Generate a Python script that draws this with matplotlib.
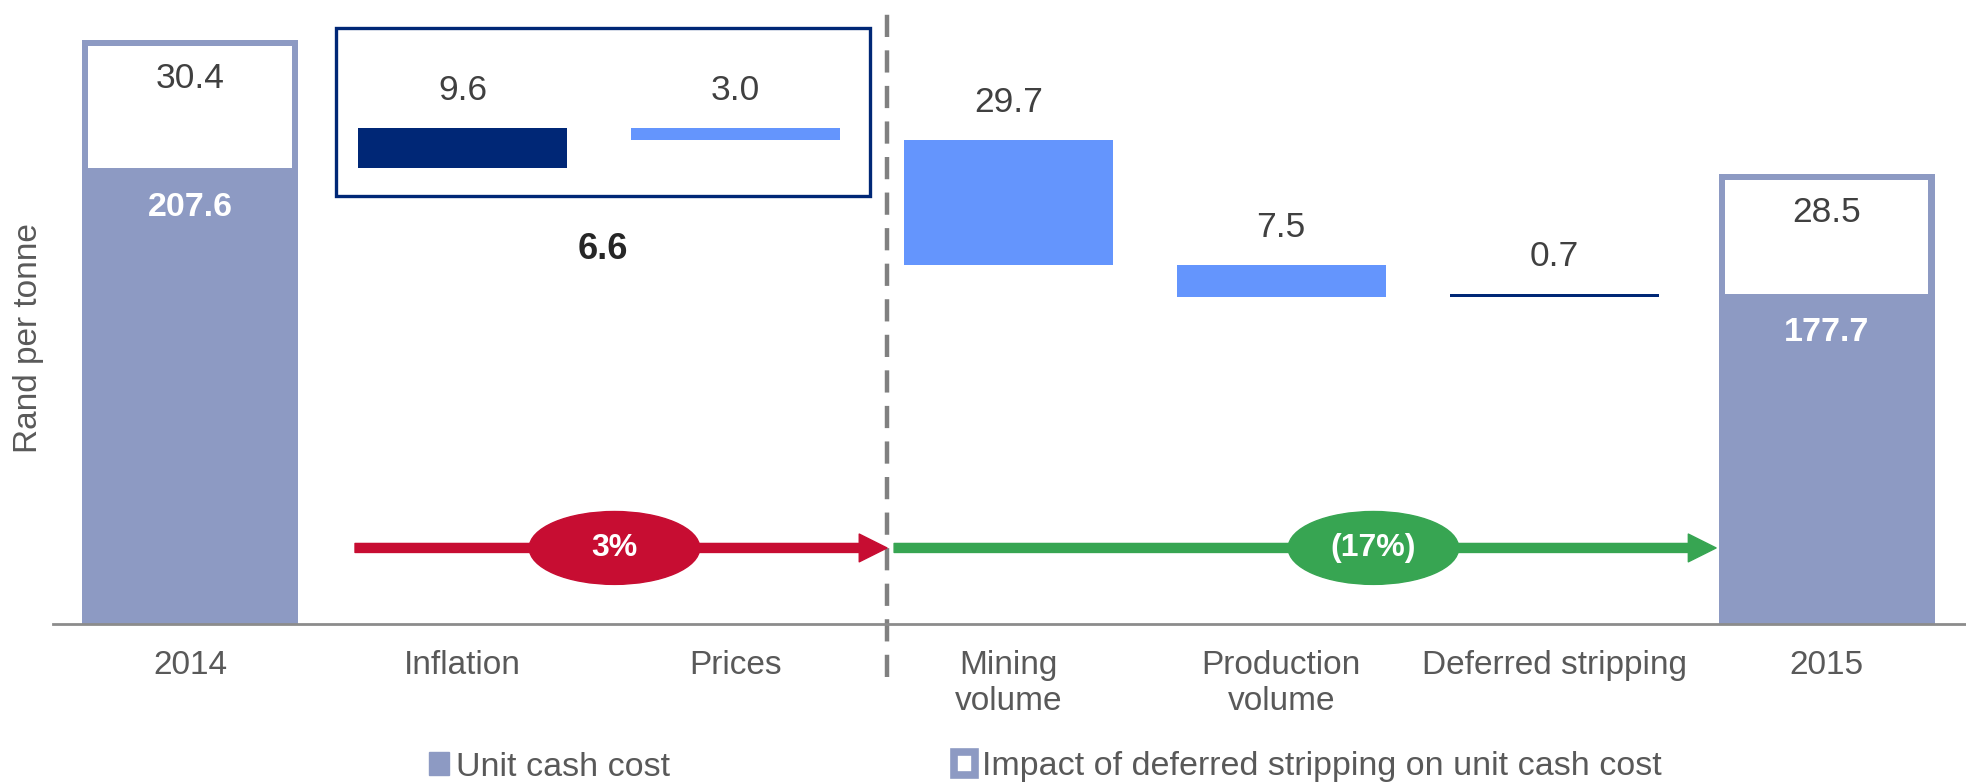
import numpy as np
import matplotlib.pyplot as plt
from matplotlib.patches import Rectangle, Ellipse, FancyArrowPatch, Patch

plt.rcParams['font.family'] = ['Liberation Sans', 'DejaVu Sans']

CATEGORIES = ['2014', 'Inflation', 'Prices', 'Mining\nvolume',
              'Production\nvolume', 'Deferred stripping', '2015']
UNIT_CASH_COST = [207.6, 177.7]      # 2014, 2015
STRIPPING_IMPACT = [30.4, 28.5]      # 2014, 2015
CHANGES = [9.6, -3.0, -29.7, -7.5, 0.7]
LEGEND_LABELS = ['Unit cash cost', 'Impact of deferred stripping on unit cash cost']

LAVENDER = '#8d9ac3'
NAVY = '#002776'
LIGHT_BLUE = '#6495fd'
RED = '#c70d32'
GREEN = '#37a552'
GREY_TXT = '#595959'
VAL_TXT = '#404040'

fig = plt.figure(figsize=(19.66, 7.83), dpi=100)
ax = fig.add_axes([53 / 1966, 1 - 624 / 783, 1 - 53 / 1966, 624 / 783])

x = np.arange(len(CATEGORIES))
ends = [x[0], x[-1]]
cost = np.array(UNIT_CASH_COST)
impact = np.array(STRIPPING_IMPACT)
totals = cost + impact

# 2014 / 2015 columns: full bar, white inset for the stripping impact
ax.bar(ends, totals, width=0.79, color=LAVENDER, zorder=2)
ax.bar(ends, impact - 1.4, bottom=cost, width=0.745, color='white', zorder=3)
for xi, c, t, imp in zip(ends, cost, totals, impact):
    ax.annotate(f'{imp:.1f}', (xi, t), xytext=(0, -28), textcoords='offset points',
                ha='center', va='center', fontsize=25.5, color=VAL_TXT, zorder=5)
    ax.annotate(f'{c:.1f}', (xi, c), xytext=(0, -28), textcoords='offset points',
                ha='center', va='center', fontsize=24.5, fontweight='bold',
                color='white', zorder=5)

# waterfall steps
steps = np.array(CHANGES)
levels = cost[0] + np.concatenate([[0], np.cumsum(steps)])
lows = np.minimum(levels[:-1], levels[1:])
highs = np.maximum(levels[:-1], levels[1:])
colors = [NAVY if v > 0 else LIGHT_BLUE for v in steps]
ax.bar(x[1:-1], np.abs(steps), bottom=lows, width=0.766, color=colors, zorder=2)
for xi, top, v in zip(x[1:-1], highs, steps):
    ax.annotate(f'{abs(v):.1f}', (xi, top), xytext=(0, 27), textcoords='offset points',
                ha='center', va='center', fontsize=25.5, color=VAL_TXT)

# box around inflation + prices with net figure
ax.add_patch(Rectangle((0.535, 201.0), 2.493 - 0.535, 240.85 - 201.0, fill=False,
                       edgecolor=NAVY, lw=2.4, zorder=4))
net = steps[0] + steps[1]
ax.text((0.535 + 2.493) / 2, 188.3, f'{net:.1f}', ha='center', va='center',
        fontsize=26, fontweight='bold', color='#262626')

# divider
ax.plot([2.555, 2.555], [86.8, 245.1], color='#808080', lw=3.2,
        linestyle=(0, (5, 3)), clip_on=False, zorder=1)

# percentage arrows
pct_up = net / cost[0] * 100
pct_down = (cost[1] - levels[2]) / levels[2] * 100
ay = 117.45
for (x0, x1, xc, col, txt) in [(0.605, 2.555, 1.556, RED, f'{pct_up:.0f}%'),
                                (2.581, 5.594, 4.338, GREEN, f'({abs(pct_down):.0f}%)')]:
    ax.add_patch(FancyArrowPatch((x0, ay), (x1, ay),
                                 arrowstyle='simple,head_length=20,head_width=20,tail_width=6.5',
                                 mutation_scale=1, color=col, shrinkA=0, shrinkB=0, zorder=4))
    ax.add_patch(Ellipse((xc, ay), 0.625, 17.3, color=col, zorder=5))
    ax.text(xc, ay, txt, ha='center', va='center', fontsize=23, fontweight='bold',
            color='white', zorder=6)

ax.set_xticks(x, CATEGORIES)
ax.set_yticks([])
ax.tick_params(axis='x', length=0, pad=19, labelsize=24, labelcolor=GREY_TXT)
for s in ['top', 'right', 'left']:
    ax.spines[s].set_visible(False)
ax.spines['bottom'].set_color('#8c8c8c')
ax.spines['bottom'].set_linewidth(2)
ax.spines['bottom'].set_zorder(4)
ax.set_xlim(-0.502, 6.51)
ax.set_ylim(99.4, 247.5)

fig.text(29 / 1966, 1 - 338 / 783, 'Rand per tonne', rotation=90, ha='center',
         va='center', fontsize=24, color=GREY_TXT)

handles = [Patch(facecolor=LAVENDER, edgecolor=LAVENDER),
           Patch(facecolor='white', edgecolor=LAVENDER, linewidth=5.5)]
fig.legend(handles, LEGEND_LABELS, loc='center left',
           bbox_to_anchor=(429 / 1966, 1 - 767 / 783), ncol=2, frameon=False,
           fontsize=24.5, labelcolor=GREY_TXT, handlelength=0.6, handleheight=0.62,
           handletextpad=0.2, columnspacing=8.35, borderpad=0, borderaxespad=0)

fig.savefig('out.png', dpi=100)
